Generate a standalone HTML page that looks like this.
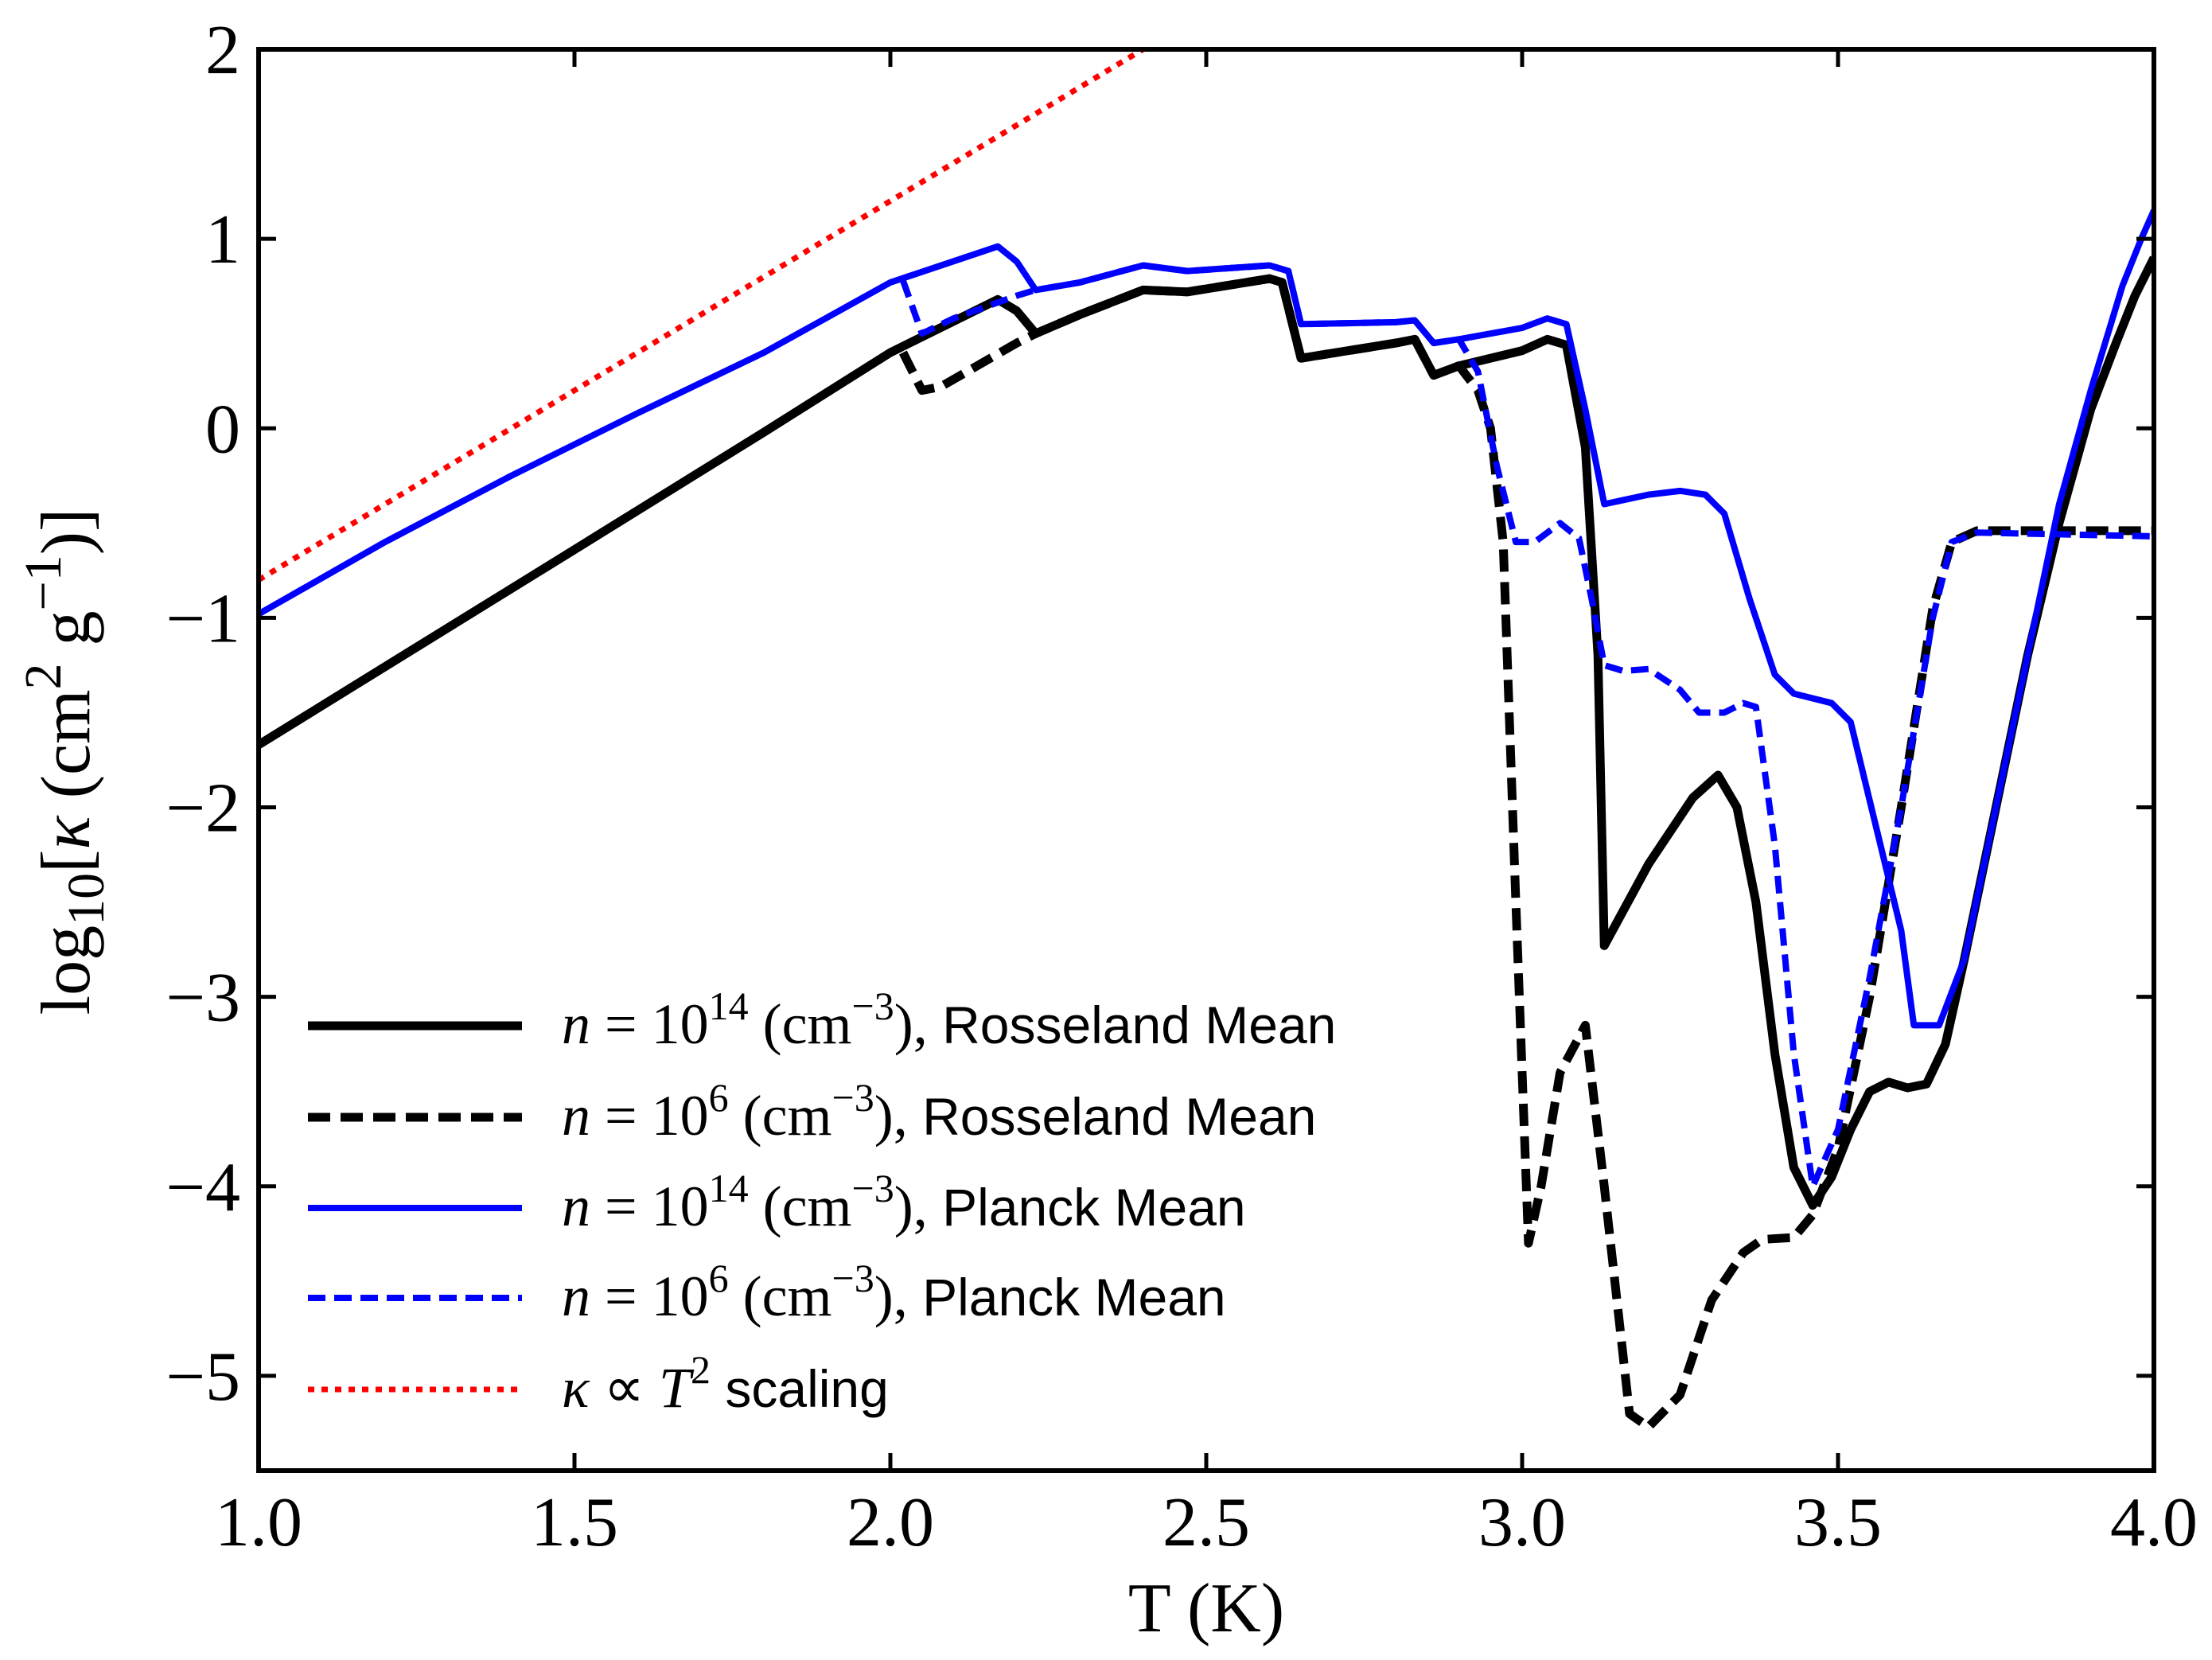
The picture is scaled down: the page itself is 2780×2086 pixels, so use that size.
<!DOCTYPE html>
<html><head><meta charset="utf-8"><style>
body{margin:0;background:#fff}
svg{display:block}
.tk{font-family:"Liberation Serif",serif;font-size:88px}
.mt{font-family:"Liberation Serif",serif;font-size:72px}
</style></head><body>
<svg id="chart" width="2780" height="2086" viewBox="0 0 2780 2086" xmlns="http://www.w3.org/2000/svg">
<defs><clipPath id="clip"><rect x="325" y="62" width="2382" height="1786"/></clipPath></defs>
<g id="series" clip-path="url(#clip)"></g>
<g id="axes"></g>
<text class="tk" x="1516" y="2050" text-anchor="middle" font-size="96">T (K)</text>
<text class="tk" font-size="96" transform="translate(112,957) rotate(-90)" text-anchor="middle">log<tspan font-size="66" dy="18">10</tspan><tspan dy="-18">[</tspan><tspan font-style="italic">κ</tspan> (cm<tspan font-size="66" dy="-36">2</tspan><tspan dy="36"> g</tspan><tspan font-size="66" dy="-36">−1</tspan><tspan dy="36">)]</tspan></text>
<g id="legend"></g>
</svg>
<script>
const xTicks=[1.0,1.5,2.0,2.5,3.0,3.5,4.0];
const xTickLabels=["1.0","1.5","2.0","2.5","3.0","3.5","4.0"];
const yTicks=[2,1,0,-1,-2,-3,-4,-5];
const yTickLabels=["2","1","0","−1","−2","−3","−4","−5"];
const rossHiT=[1.0,1.5,1.8,2.0,2.17,2.2,2.23,2.3,2.4,2.47,2.6,2.62,2.65,2.8,2.83,2.86,2.9,3.0,3.04,3.07,3.1,3.12,3.13,3.2,3.27,3.31,3.34,3.37,3.4,3.43,3.46,3.49,3.52,3.55,3.58,3.61,3.64,3.67,3.7,3.75,3.8,3.85,3.9,3.94,3.97,4.0];
const rossHiK=[-1.67,-0.64,-0.02,0.4,0.68,0.62,0.5,0.6,0.73,0.72,0.79,0.77,0.37,0.45,0.47,0.28,0.33,0.41,0.47,0.44,-0.1,-1.2,-2.73,-2.3,-1.95,-1.83,-2.0,-2.5,-3.3,-3.9,-4.1,-3.95,-3.7,-3.5,-3.45,-3.48,-3.46,-3.25,-2.8,-2.0,-1.2,-0.5,0.1,0.45,0.7,0.9];
const rossLoT=[2.02,2.05,2.08,2.2,2.23,2.3,2.4,2.47,2.6,2.62,2.65,2.8,2.83,2.86,2.9,2.93,2.95,2.97,2.99,3.01,3.03,3.06,3.1,3.13,3.17,3.2,3.25,3.3,3.35,3.38,3.43,3.46,3.5,3.55,3.6,3.65,3.68,3.72,4.0];
const rossLoK=[0.4,0.2,0.22,0.45,0.5,0.6,0.73,0.72,0.79,0.77,0.37,0.45,0.47,0.28,0.33,0.2,0.0,-0.6,-2.5,-4.3,-4.0,-3.4,-3.15,-4.0,-5.2,-5.27,-5.1,-4.6,-4.35,-4.28,-4.27,-4.15,-3.8,-3.0,-2.0,-0.95,-0.6,-0.54,-0.54];
const planckHiT=[1.0,1.2,1.4,1.6,1.8,2.0,2.17,2.2,2.23,2.3,2.4,2.47,2.6,2.63,2.65,2.8,2.83,2.86,2.9,3.0,3.04,3.07,3.1,3.13,3.2,3.25,3.29,3.32,3.36,3.4,3.43,3.49,3.52,3.56,3.6,3.62,3.66,3.7,3.75,3.8,3.85,3.9,3.95,3.98,4.0];
const planckHiK=[-0.98,-0.6,-0.25,0.08,0.4,0.77,0.96,0.88,0.73,0.77,0.86,0.83,0.86,0.83,0.55,0.56,0.57,0.45,0.47,0.53,0.58,0.55,0.1,-0.4,-0.35,-0.33,-0.35,-0.45,-0.9,-1.3,-1.4,-1.45,-1.55,-2.1,-2.65,-3.15,-3.15,-2.8,-2.0,-1.2,-0.4,0.2,0.75,1.0,1.15];
const planckLoT=[2.02,2.05,2.1,2.2,2.23,2.3,2.4,2.47,2.6,2.63,2.65,2.8,2.83,2.86,2.9,2.93,2.96,2.99,3.02,3.06,3.09,3.11,3.13,3.16,3.2,3.25,3.28,3.32,3.35,3.37,3.4,3.43,3.46,3.5,3.55,3.6,3.65,3.68,3.72,4.0];
const planckLoK=[0.78,0.5,0.58,0.7,0.73,0.77,0.86,0.83,0.86,0.83,0.55,0.56,0.57,0.45,0.47,0.3,-0.2,-0.6,-0.6,-0.5,-0.58,-0.9,-1.25,-1.28,-1.27,-1.38,-1.5,-1.5,-1.45,-1.47,-2.2,-3.3,-4.0,-3.7,-2.9,-2.0,-1.0,-0.6,-0.55,-0.57];
const scaleT=[1.0,2.6];
const scaleK=[-0.8,2.4];

const X0=325,X1=2707,Y0=62,Y1=1848;
const xs=v=>X0+(v-1)/(4-1)*(X1-X0);
const ys=v=>Y0+(2-v)/(2-(-5.5))*(Y1-Y0);
const NS="http://www.w3.org/2000/svg";
function mk(tag,attrs,parent){const e=document.createElementNS(NS,tag);for(const k in attrs)e.setAttribute(k,attrs[k]);parent.appendChild(e);return e;}
const series=document.getElementById('series'),axes=document.getElementById('axes'),legend=document.getElementById('legend');
const defs=[
 {t:rossHiT,k:rossHiK,c:"#000",w:11,d:"",n:"rosseland-n14-line"},
 {t:rossLoT,k:rossLoK,c:"#000",w:11,d:"28 13",n:"rosseland-n6-line"},
 {t:planckHiT,k:planckHiK,c:"#0000ff",w:8,d:"",n:"planck-n14-line"},
 {t:planckLoT,k:planckLoK,c:"#0000ff",w:8,d:"22 11",n:"planck-n6-line"},
 {t:scaleT,k:scaleK,c:"#ff0000",w:7,d:"8 9",n:"t2-scaling-line"}
];
defs.forEach(s=>{
 const p=mk('polyline',{points:s.t.map((t,i)=>xs(t)+','+ys(s.k[i])).join(' '),fill:'none',stroke:s.c,'stroke-width':s.w,'stroke-dasharray':s.d,'stroke-linejoin':'round'},series);
 
 
});
const fr=mk('rect',{x:X0,y:Y0,width:X1-X0,height:Y1-Y0,fill:'none',stroke:'#000','stroke-width':6},axes);


xTicks.forEach((v,i)=>{
 const x=xs(v);
 mk('line',{x1:x,x2:x,y1:Y1,y2:Y1-22,stroke:'#000','stroke-width':5},axes);
 mk('line',{x1:x,x2:x,y1:Y0,y2:Y0+22,stroke:'#000','stroke-width':5},axes);
 const t=mk('text',{x:x,y:1942,'text-anchor':'middle',class:'tk'},axes);t.textContent=xTickLabels[i];
 
 
});
yTicks.forEach((v,i)=>{
 const y=ys(v);
 mk('line',{x1:X0,x2:X0+22,y1:y,y2:y,stroke:'#000','stroke-width':5},axes);
 mk('line',{x1:X1,x2:X1-22,y1:y,y2:y,stroke:'#000','stroke-width':5},axes);
 const t=mk('text',{x:302,y:y+30,'text-anchor':'end',class:'tk'},axes);t.textContent=yTickLabels[i];
 
 
});
const labels=[
 ['10','14','Rosseland Mean'],['10','6','Rosseland Mean'],['10','14','Planck Mean'],['10','6','Planck Mean'],null];
const ly=[1289,1404,1518,1631,1746];
defs.forEach((s,i)=>{
 const y=ly[i];
 const l=mk('line',{x1:387,x2:656,y1:y,y2:y,stroke:s.c,'stroke-width':s.w,'stroke-dasharray':s.d},legend);
 
 
 const t=mk('text',{x:706,y:y+22,class:'mt'},legend);
 
 
 if(labels[i]){
  const L=labels[i];
  t.innerHTML='<tspan font-style="italic">n</tspan> = '+L[0]+'<tspan font-size="50" dy="-30">'+L[1]+'</tspan><tspan dy="30"> (cm</tspan><tspan font-size="50" dy="-30">−3</tspan><tspan dy="30">),</tspan><tspan font-family="Liberation Sans, sans-serif" font-size="66"> '+L[2]+'</tspan>';
 } else {
  t.innerHTML='<tspan font-style="italic">κ</tspan> ∝ <tspan font-style="italic">T</tspan><tspan font-size="50" dy="-30">2</tspan><tspan dy="30" font-family="Liberation Sans, sans-serif" font-size="66"> scaling</tspan>';
 }
});
</script>
</body></html>
